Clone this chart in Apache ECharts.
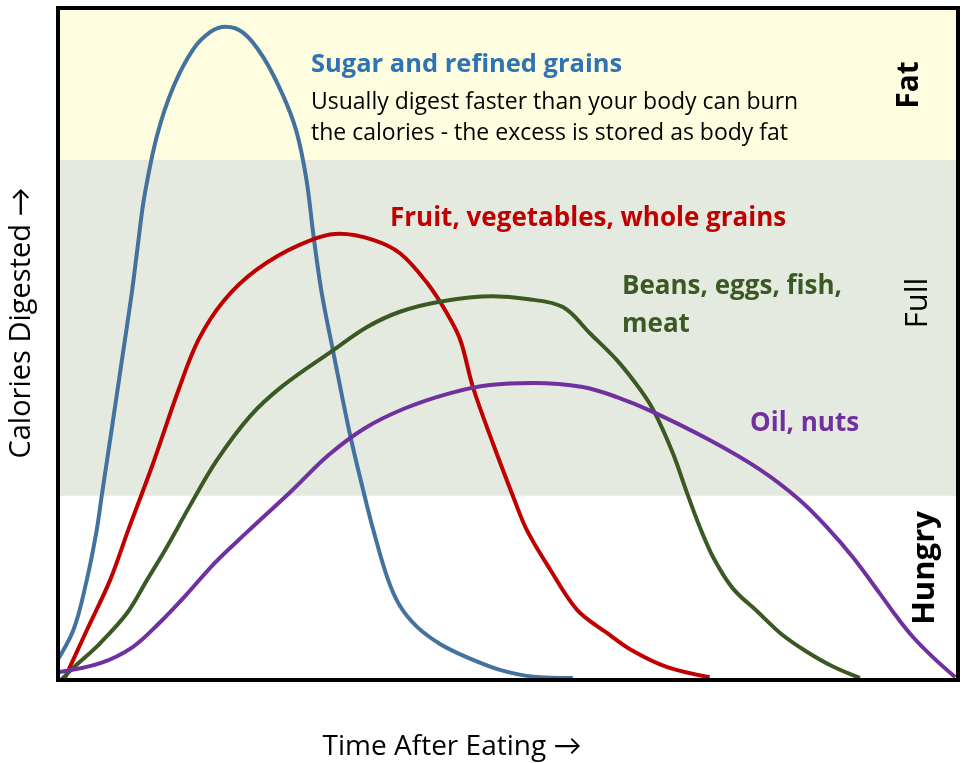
<!DOCTYPE html>
<html>
<head>
<meta charset="utf-8">
<script src="https://cdn.jsdelivr.net/npm/echarts@6/dist/echarts.min.js"></script>
<style>
  html, body { margin: 0; padding: 0; background: #fff; }
  #chart { width: 964px; height: 763px; }
</style>
</head>
<body>
<div id="chart"></div>
<script>
// digestion curves, [time, calories] (0..100 both ways)
var sugar = [[-0.6, 1.8], [1.7, 7.4], [3.2, 14.9], [4.3, 22.3], [4.9, 27.8], [6.0, 37.6],
  [7.1, 47.6], [8.2, 57.6], [8.9, 65.0], [9.6, 72.0], [11.0, 81.0], [12.8, 88.2],
  [15.0, 93.8], [16.9, 96.4], [18.6, 97.2], [20.6, 96.3], [22.8, 92.7], [25.0, 87.0],
  [26.5, 81.6], [27.6, 74.5], [28.4, 66.0], [29.3, 57.6], [30.6, 48.7], [32.4, 36.8],
  [34.1, 27.2], [35.1, 22.0], [36.6, 15.2], [38.0, 11.0], [39.9, 7.9], [42.4, 5.4],
  [45.4, 3.4], [49.1, 1.5], [52.8, 0.5], [57.2, 0.3]];
var fruit = [[0.8, 0.4], [3.2, 7.4], [5.8, 14.9], [7.8, 22.3], [10.5, 32.0],
  [13.4, 43.2], [15.6, 50.6], [18.4, 56.4], [22.0, 61.0], [26.9, 64.8],
  [31.3, 66.4], [35.0, 65.5], [38.0, 63.5], [41.0, 59.1], [43.2, 54.6], [44.7, 50.6],
  [46.1, 43.6], [48.3, 35.3], [50.6, 27.2], [52.1, 22.3], [54.7, 16.4], [57.7, 10.4],
  [61.0, 7.0], [63.9, 4.3], [67.7, 1.9], [72.4, 0.4]];
var beans = [[0.4, 0.1], [1.7, 1.8], [4.7, 5.5], [7.7, 10.0], [9.9, 14.9], [12.1, 19.8],
  [14.6, 25.8], [17.6, 32.6], [21.3, 39.2], [25.0, 43.8], [30.6, 49.1],
  [34.3, 52.5], [38.0, 54.8], [42.4, 56.3], [48.3, 57.1], [52.1, 56.7], [56.1, 55.5],
  [59.1, 51.6], [62.1, 47.6], [64.7, 43.2], [66.3, 39.8], [68.3, 33.8], [69.9, 27.8],
  [71.3, 22.8], [72.9, 18.0], [75.0, 13.6], [77.7, 10.2], [80.4, 6.8], [83.2, 4.2],
  [86.1, 2.0], [89.1, 0.3]];
var oil = [[0.2, 1.2], [4.7, 2.5], [8.3, 4.9], [11.2, 8.4], [14.2, 12.6],
  [17.4, 17.4], [21.0, 22.0], [26.0, 28.2], [30.0, 33.4], [34.0, 37.4], [38.5, 40.4],
  [43.6, 42.7], [48.0, 43.9], [52.8, 44.2], [58.3, 43.6], [62.1, 42.1], [66.1, 39.9],
  [72.4, 35.7], [78.0, 31.3], [82.4, 26.8], [85.4, 22.8], [88.3, 18.3], [91.3, 12.9],
  [93.2, 9.4], [95.0, 6.4], [97.2, 3.4], [99.7, 0.4]];

// zones on the calories scale
var zoneNames = ['Hungry', 'Full', 'Fat'];
var zoneLimits = [0, 27.4, 77.4, 100];

var axisNames = ['Time After Eating \u2192', 'Calories Digested \u2192'];

var chart = echarts.init(document.getElementById('chart'));

var font = '"Open Sans", Lato, sans-serif';

function curve(name, data, color) {
  return {
    name: name,
    type: 'line',
    data: data,
    smooth: 0.35,
    symbol: 'none',
    clip: false,
    lineStyle: { color: color, width: 4 }
  };
}

function label(text, x, y, size, color, bold, rot) {
  return {
    type: 'text',
    x: x,
    y: y,
    rotation: rot || 0,
    z: 10,
    style: {
      text: text,
      fill: color,
      font: (bold ? 'bold ' : '') + size + 'px ' + font,
      align: rot ? 'center' : 'left',
      verticalAlign: 'middle'
    }
  };
}

var option = {
  animation: false,
  grid: {
    left: 58, right: 6, top: 8, bottom: 83,
    show: true,
    borderColor: '#000',
    borderWidth: 4,
    z: 5
  },
  xAxis: {
    type: 'value',
    min: 0, max: 100,
    axisLine: { show: false },
    axisTick: { show: false },
    axisLabel: { show: false },
    splitLine: { show: false }
  },
  yAxis: {
    type: 'value',
    min: 0, max: 100,
    axisLine: { show: false },
    axisTick: { show: false },
    axisLabel: { show: false },
    splitLine: { show: false }
  },
  series: [
    {
      type: 'line',
      data: [],
      silent: true,
      markArea: {
        silent: true,
        data: [
          [{ yAxis: zoneLimits[1], itemStyle: { color: '#E4EADF' } }, { yAxis: zoneLimits[2] }],
          [{ yAxis: zoneLimits[2], itemStyle: { color: '#FFFDE0' } }, { yAxis: zoneLimits[3] }]
        ]
      }
    },
    curve('Sugar and refined grains', sugar, '#44729F'),
    curve('Fruit, vegetables, whole grains', fruit, '#C00000'),
    curve('Beans, eggs, fish, meat', beans, '#3B5A23'),
    curve('Oil, nuts', oil, '#7030A0')
  ],
  graphic: [
    label('Sugar and refined grains', 311, 65, 25.5, '#2E74B5', true),
    label('Usually digest faster than your body can burn', 311, 102, 23, '#000', false),
    label('the calories - the excess is stored as body fat', 311, 133, 23, '#000', false),
    label('Fruit, vegetables, whole grains', 390, 219, 26, '#C00000', true),
    label('Beans, eggs, fish,', 622, 287, 26, '#3B5A23', true),
    label('meat', 622, 325, 26, '#3B5A23', true),
    label('Oil, nuts', 750, 424, 26, '#7030A0', true),
    label(zoneNames[2], 909, 85, 30, '#000', true, Math.PI / 2),
    label(zoneNames[1], 918, 303, 31, '#000', false, Math.PI / 2),
    label(zoneNames[0], 925, 568, 31, '#000', true, Math.PI / 2),
    label(axisNames[0], 452, 747, 28, '#000', false, 0.0001),
    label(axisNames[1], 22, 323, 29, '#000', false, Math.PI / 2)
  ]
};

chart.setOption(option);
</script>
</body>
</html>
